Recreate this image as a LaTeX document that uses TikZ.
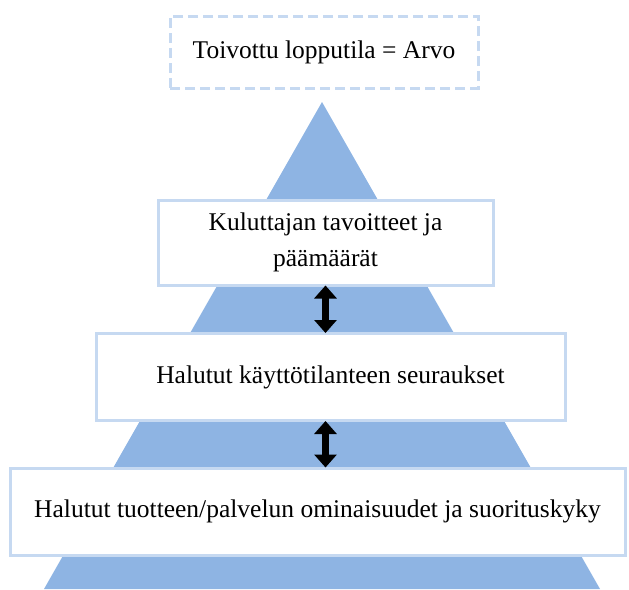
\documentclass[tikz,border=0pt]{standalone}
\usepackage{fontspec}
\setmainfont{Liberation Serif}
\usetikzlibrary{arrows.meta}
\definecolor{pyr}{HTML}{8EB4E3}
\definecolor{bord}{HTML}{C6D9F1}
\tikzset{
  lvl/.style={draw=bord, line width=3pt, fill=white, align=center, inner sep=0pt, font=\fontsize{25.5}{36}\selectfont},
  dbl/.style={{Triangle[width=22pt,length=13pt]}-{Triangle[width=22pt,length=13pt]}, line width=7pt, black, shorten <=-1pt, shorten >=-1pt}
}
\begin{document}
\begin{tikzpicture}[x=1pt,y=-1pt]
\useasboundingbox (0,0) rectangle (629,589);
\fill[pyr] (322,102) -- (600,589) -- (44,589) -- cycle;
\node[lvl, dashed, dash pattern=on 10pt off 5pt, minimum width=308pt, minimum height=72pt] (b1) at (324,52) {Toivottu lopputila = Arvo};
\node[lvl, minimum width=335pt, minimum height=85pt] (b2) at (325.5,242.5) {Kuluttajan tavoitteet ja\\päämäärät};
\node[lvl, minimum width=469pt, minimum height=87pt] (b3) at (330.5,377) {Halutut käyttötilanteen seuraukset};
\node[lvl, minimum width=615pt, minimum height=87pt] (b4) at (317.5,511.5) {Halutut tuotteen/palvelun ominaisuudet ja suorituskyky};
\draw[dbl] (b2.south) -- (b2.south |- b3.north);
\draw[dbl] (b2.south |- b3.south) -- (b2.south |- b4.north);
\end{tikzpicture}
\end{document}
